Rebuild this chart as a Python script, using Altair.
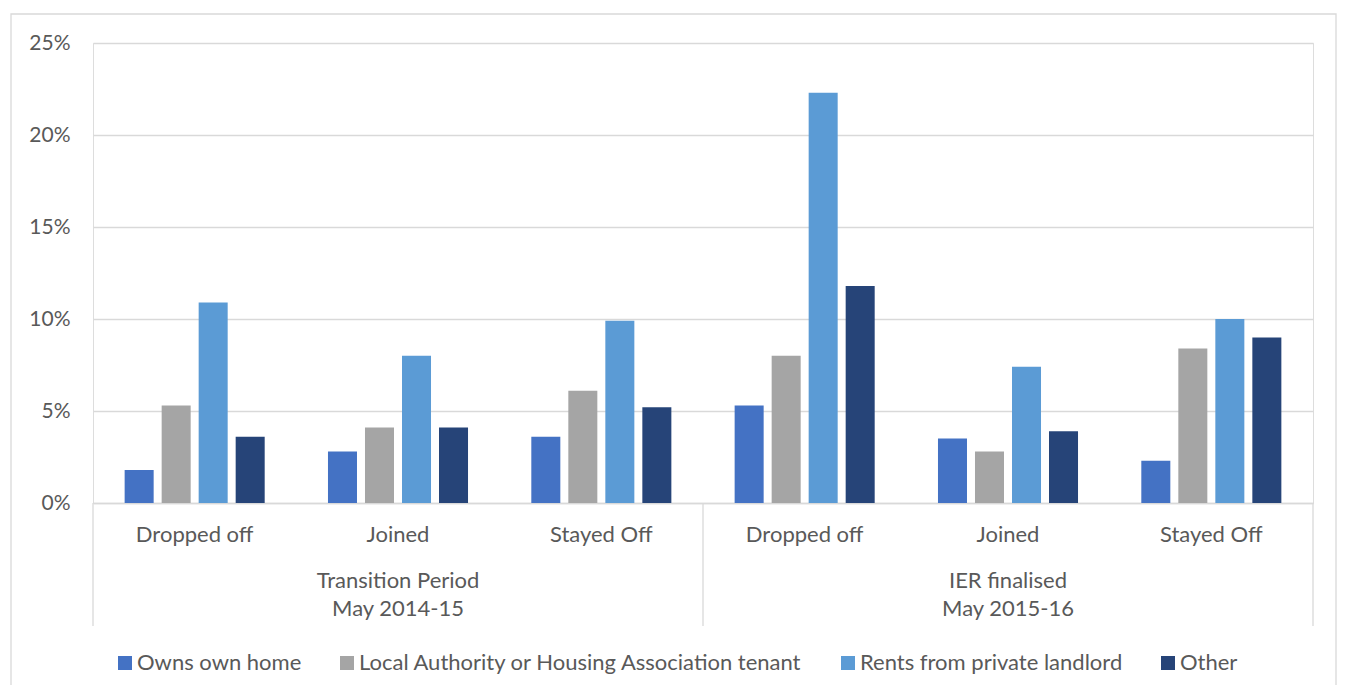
import altair as alt
import pandas as pd

periods = ["Transition Period\nMay 2014-15", "IER finalised\nMay 2015-16"]
statuses = ["Dropped off", "Joined", "Stayed Off"]
series = ["Owns own home", "Local Authority or Housing Association tenant",
          "Rents from private landlord", "Other"]
colors = ["#4472C4", "#A5A5A5", "#5B9BD5", "#264478"]

owns = [1.8, 2.8, 3.6, 5.3, 3.5, 2.3]
la_ha = [5.3, 4.1, 6.1, 8.0, 2.8, 8.4]
private = [10.9, 8.0, 9.9, 22.3, 7.4, 10.0]
other = [3.6, 4.1, 5.2, 11.8, 3.9, 9.0]
y_ticks = [0, 5, 10, 15, 20, 25]

keys = [f"P{p}|{s}" for p in range(len(periods)) for s in statuses]
rows = []
for sname, vals in zip(series, [owns, la_ha, private, other]):
    for k, v in zip(keys, vals):
        rows.append({"key": k, "series": sname, "value": v})
df = pd.DataFrame(rows)

W, H = 1220, 460
FONT = "Lato"
FS = 22
GREY_TXT = "#595959"
LINE = "#d9d9d9"

xscale = alt.Scale(domain=keys, paddingInner=0, paddingOuter=0)

bars = alt.Chart(df).mark_bar().encode(
    x=alt.X("key:N", scale=xscale, sort=keys, title=None,
            axis=alt.Axis(labelExpr="split(datum.label, '|')[1]", labelAngle=0,
                          ticks=False, domainColor=LINE, domainWidth=1.3,
                          labelFontSize=FS, labelColor=GREY_TXT, labelPadding=21,
                          labelFont=FONT)),
    xOffset=alt.XOffset("series:N", sort=series,
                        scale=alt.Scale(domain=series, paddingInner=0.216, paddingOuter=0.855)),
    y=alt.Y("value:Q", scale=alt.Scale(domain=[0, 25], nice=False), title=None,
            axis=alt.Axis(values=y_ticks, labelExpr="datum.value + '%'", domain=False,
                          ticks=False, gridColor=LINE, gridWidth=1.3, labelFontSize=21,
                          labelColor=GREY_TXT, labelPadding=23, labelFont=FONT)),
    color=alt.Color("series:N", sort=series,
                    scale=alt.Scale(domain=series, range=colors),
                    legend=alt.Legend(title=None, orient="none", direction="horizontal",
                                      legendX=21, legendY=609, symbolType="square",
                                      symbolSize=196, symbolStrokeWidth=0,
                                      labelFontSize=FS, labelColor=GREY_TXT, labelFont=FONT,
                                      labelLimit=0, labelOffset=1, columnPadding=34, columns=4)),
)

period_df = pd.DataFrame({"key": [f"P{p}|{statuses[1]}" for p in range(len(periods))],
                          "label": periods})
period_text = alt.Chart(period_df).mark_text(
    lineBreak="\n", fontSize=FS, color=GREY_TXT, font=FONT, baseline="top", lineHeight=28
).encode(x=alt.X("key:N", scale=xscale, sort=keys), y=alt.value(H + 68), text="label:N")

left_df = pd.DataFrame({"key": [f"P{p}|{statuses[0]}" for p in range(len(periods))]})
sep_left = alt.Chart(left_df).mark_rule(color=LINE, strokeWidth=1.3).encode(
    x=alt.X("key:N", scale=xscale, sort=keys, bandPosition=0),
    y=alt.value(H), y2=alt.value(H + 123))
right_df = pd.DataFrame({"key": [keys[-1]]})
sep_right = alt.Chart(right_df).mark_rule(color=LINE, strokeWidth=1.3).encode(
    x=alt.X("key:N", scale=xscale, sort=keys, bandPosition=1),
    y=alt.value(H), y2=alt.value(H + 123))

frame = alt.Chart(right_df).mark_rect(fill=None, stroke=LINE, strokeWidth=1.3).encode(
    x=alt.value(11 - 93), x2=alt.value(1336 - 93), y=alt.value(14 - 43), y2=alt.value(700))

chart = alt.layer(frame, bars, period_text, sep_left, sep_right).properties(
    width=W, height=H, autosize="none",
    padding={"left": 85, "top": 35, "right": 25, "bottom": 182},
).configure_view(stroke=None).configure(font=FONT)

chart.save("out.html", embed_options={"renderer": "svg", "actions": False})
